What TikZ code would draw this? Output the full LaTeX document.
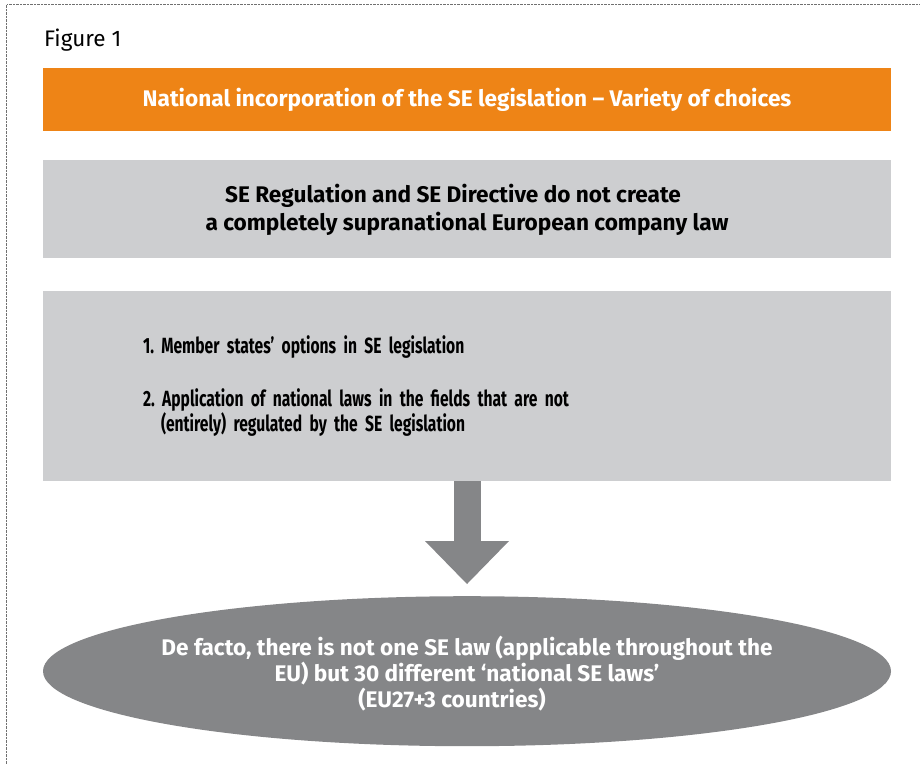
\documentclass[tikz,border=0pt]{standalone}
\usepackage{fontspec}
\setmainfont{Fira Sans}
\newfontfamily\condfont{Fira Sans}[FakeStretch=0.71, WordSpace=0.7]
\usetikzlibrary{shapes.geometric, positioning, arrows.meta}
\frenchspacing

\definecolor{seorange}{HTML}{EE8416}
\definecolor{selight}{HTML}{CDCED0}
\definecolor{sedark}{HTML}{858688}
\definecolor{seframe}{HTML}{707070}

\begin{document}
\begin{tikzpicture}[x=1pt, y=-1pt, node distance=29pt,
    banner/.style={fill=seorange, text=white, minimum width=848pt, minimum height=63pt, inner sep=0pt,
        font=\bfseries\fontsize{22.6}{26}\selectfont},
    panel/.style={fill=selight, minimum width=848pt, inner sep=0pt},
    verdictbox/.style={ellipse, fill=sedark, minimum width=848pt, minimum height=150pt, inner sep=0pt},
    flow/.style={draw=sedark, line width=27pt, shorten >=12pt,
        -{Triangle[length=43pt, width=84pt, line width=0pt]}}]

    \clip (0,0) rectangle (920,763);

    % FRAME
    \draw[seframe, densely dotted] (6.5,4.5) rectangle (940,790);

    % CAPTION
    \node[anchor=base west, inner sep=0pt, font=\fontsize{22.5}{26}\selectfont] (caption) at (44,46) {Figure 1};

    % BOXES
    \node[banner] (title) at (467,99.5) {National incorporation of the SE legislation -- Variety of choices};
    \node[panel, minimum height=98pt, below=29pt of title, align=center,
        font=\bfseries\fontsize{22.6}{28}\selectfont] (claim)
        {SE Regulation and SE Directive do not create\hspace*{28pt}\\ a completely supranational European company law};
    \node[panel, minimum height=190pt, below=32pt of claim, align=left, text width=648pt, inner xsep=100pt,
        font=\condfont\bfseries\fontsize{22}{25}\selectfont] (list)
        {\rule{0pt}{6pt}1. Member states’ options in SE legislation\\[28pt]
         2. Application of national laws in the fields that are not\\
         \hspace*{18pt}(entirely) regulated by the SE legislation};

    % RESULT
    \node[verdictbox, below=115pt of list] (verdict) {};
    \node[text=white, align=center, inner sep=0pt, font=\bfseries\fontsize{22.6}{26}\selectfont]
        (verdicttext) at ([yshift=-2pt]verdict.center)
        {De facto, there is not one SE law (applicable throughout the\\
         EU) but 30 different `national SE laws'\hspace*{62pt}\\
         (EU27+3 countries)\hspace*{30pt}};

    % ARROW
    \draw[flow] (list.south) -- (verdict.north);

\end{tikzpicture}
\end{document}
